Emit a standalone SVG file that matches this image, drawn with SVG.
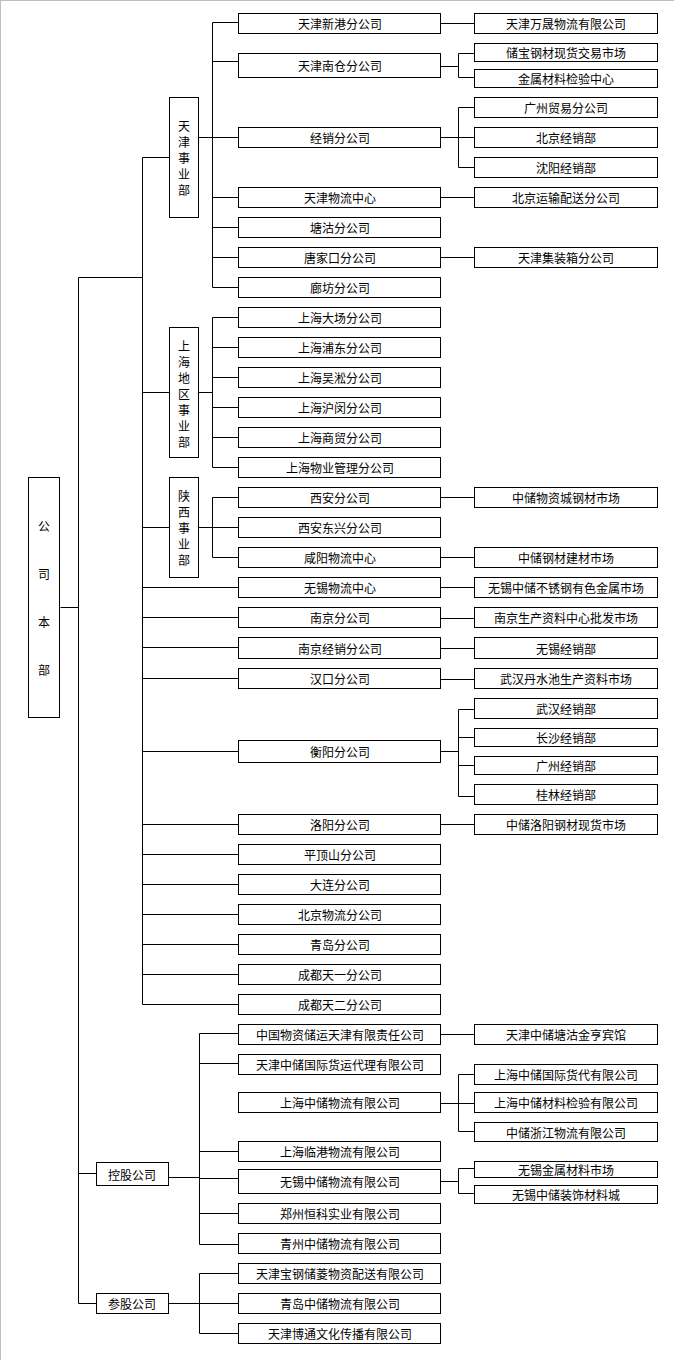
<svg xmlns="http://www.w3.org/2000/svg" width="674" height="1360" viewBox="0 0 674 1360">
<style>
rect{fill:#fff;stroke:#000;stroke-width:1}
text{font-family:"Noto Sans CJK SC",sans-serif;font-size:12px;fill:#000;text-anchor:middle;dominant-baseline:central}
#connectors path{fill:none;stroke:#000;stroke-width:1}
</style>
<rect x="0" y="0" width="674" height="1360" style="fill:#fff;stroke:none"/>
<path d="M0.5 0V1360M0 0.5H674" style="stroke:#c0c0c0;fill:none"/>
<g id="connectors">
<path d="M60.5 607.5H78.5M78.5 277.5V1303.5M78.5 277.5H142.5M78.5 1173.5H96M78.5 1303.5H96"/>
<path d="M142.5 157.5V1004.5M142.5 157.5H169M142.5 392.5H169M142.5 527.5H169"/>
<path d="M142.5 587.5H238M142.5 617.5H238M142.5 647.5H238M142.5 678.5H238M142.5 751.5H238M142.5 824.5H238M142.5 854.5H238M142.5 884.5H238M142.5 914.5H238M142.5 944.5H238M142.5 974.5H238M142.5 1004.5H238"/>
<path d="M199 137.5H212.5M212.5 22.5V287.5M212.5 22.5H238M212.5 61.5H238M212.5 137.5H238M212.5 197.5H238M212.5 227.5H238M212.5 257.5H238M212.5 287.5H238"/>
<path d="M199 392.5H212.5M212.5 317.5V467.5M212.5 317.5H238M212.5 347.5H238M212.5 377.5H238M212.5 407.5H238M212.5 437.5H238M212.5 467.5H238"/>
<path d="M199 527.5H212.5M212.5 497.5V557.5M212.5 497.5H238M212.5 527.5H238M212.5 557.5H238"/>
<path d="M441 23.5H474M441 66.5H458.5M458.5 53.5V77.5M458.5 53.5H474M458.5 77.5H474"/>
<path d="M441 137.5H474M458.5 107.5V167.5M458.5 107.5H474M458.5 167.5H474"/>
<path d="M441 197.5H474M441 257.5H474M441 497.5H474M441 557.5H474M441 587.5H474M441 618.5H474M441 648.5H474M441 679.5H474M441 824.5H474M441 1034.5H474"/>
<path d="M441 751.5H458.5M458.5 709.5V796.5M458.5 709.5H474M458.5 737.5H474M458.5 765.5H474M458.5 796.5H474"/>
<path d="M169 1177.5H199.5M199.5 1033.5V1244.5M199.5 1033.5H238M199.5 1063.5H238M199.5 1151.5H238M199.5 1178.5H238M199.5 1213.5H238M199.5 1244.5H238"/>
<path d="M441 1103.5H458.5M458.5 1074.5V1131.5M458.5 1074.5H474M458.5 1103.5H474M458.5 1131.5H474"/>
<path d="M441 1181.5H458.5M458.5 1168.5V1193.5M458.5 1168.5H474M458.5 1193.5H474"/>
<path d="M169 1303.5H199.5M199.5 1273.5V1333.5M199.5 1273.5H238M199.5 1303.5H238M199.5 1333.5H238"/>
</g>
<g id="hq"><rect x="28.5" y="477.5" width="31" height="240"/><text x="44" y="525">公</text><text x="44" y="573">司</text><text x="44" y="621">本</text><text x="44" y="669">部</text></g>
<g id="tj"><rect x="169.5" y="97.5" width="29" height="120"/><text x="184" y="125">天</text><text x="184" y="141">津</text><text x="184" y="157">事</text><text x="184" y="173">业</text><text x="184" y="189">部</text></g>
<g id="sh"><rect x="169.5" y="327.5" width="29" height="130"/><text x="184" y="345">上</text><text x="184" y="361">海</text><text x="184" y="377">地</text><text x="184" y="393">区</text><text x="184" y="409">事</text><text x="184" y="425">业</text><text x="184" y="441">部</text></g>
<g id="sx"><rect x="169.5" y="477.5" width="29" height="100"/><text x="184" y="495">陕</text><text x="184" y="511">西</text><text x="184" y="527">事</text><text x="184" y="543">业</text><text x="184" y="559">部</text></g>
<g id="kg"><rect x="96.5" y="1162.5" width="72" height="23"/><text x="132" y="1174">控股公司</text></g>
<g id="cg"><rect x="96.5" y="1293.5" width="72" height="20"/><text x="132" y="1303.5">参股公司</text></g>
<g id="m1"><rect x="238.5" y="13.5" width="202" height="20"/><text x="340" y="23.5">天津新港分公司</text></g>
<g id="m2"><rect x="238.5" y="53.5" width="202" height="24"/><text x="340" y="65.5">天津南仓分公司</text></g>
<g id="m3"><rect x="238.5" y="127.5" width="202" height="20"/><text x="340" y="137.5">经销分公司</text></g>
<g id="m4"><rect x="238.5" y="187.5" width="202" height="20"/><text x="340" y="197.5">天津物流中心</text></g>
<g id="m5"><rect x="238.5" y="217.5" width="202" height="20"/><text x="340" y="227.5">塘沽分公司</text></g>
<g id="m6"><rect x="238.5" y="247.5" width="202" height="20"/><text x="340" y="257.5">唐家口分公司</text></g>
<g id="m7"><rect x="238.5" y="277.5" width="202" height="20"/><text x="340" y="287.5">廊坊分公司</text></g>
<g id="m8"><rect x="238.5" y="307.5" width="202" height="20"/><text x="340" y="317.5">上海大场分公司</text></g>
<g id="m9"><rect x="238.5" y="337.5" width="202" height="20"/><text x="340" y="347.5">上海浦东分公司</text></g>
<g id="m10"><rect x="238.5" y="367.5" width="202" height="20"/><text x="340" y="377.5">上海吴淞分公司</text></g>
<g id="m11"><rect x="238.5" y="397.5" width="202" height="20"/><text x="340" y="407.5">上海沪闵分公司</text></g>
<g id="m12"><rect x="238.5" y="427.5" width="202" height="20"/><text x="340" y="437.5">上海商贸分公司</text></g>
<g id="m13"><rect x="238.5" y="457.5" width="202" height="20"/><text x="340" y="467.5">上海物业管理分公司</text></g>
<g id="m14"><rect x="238.5" y="487.5" width="202" height="20"/><text x="340" y="497.5">西安分公司</text></g>
<g id="m15"><rect x="238.5" y="517.5" width="202" height="20"/><text x="340" y="527.5">西安东兴分公司</text></g>
<g id="m16"><rect x="238.5" y="547.5" width="202" height="20"/><text x="340" y="557.5">咸阳物流中心</text></g>
<g id="m17"><rect x="238.5" y="577.5" width="202" height="20"/><text x="340" y="587.5">无锡物流中心</text></g>
<g id="m18"><rect x="238.5" y="607.5" width="202" height="20"/><text x="340" y="617.5">南京分公司</text></g>
<g id="m19"><rect x="238.5" y="637.5" width="202" height="21"/><text x="340" y="648">南京经销分公司</text></g>
<g id="m20"><rect x="238.5" y="668.5" width="202" height="20"/><text x="340" y="678.5">汉口分公司</text></g>
<g id="m21"><rect x="238.5" y="740.5" width="202" height="22"/><text x="340" y="751.5">衡阳分公司</text></g>
<g id="m22"><rect x="238.5" y="814.5" width="202" height="20"/><text x="340" y="824.5">洛阳分公司</text></g>
<g id="m23"><rect x="238.5" y="844.5" width="202" height="20"/><text x="340" y="854.5">平顶山分公司</text></g>
<g id="m24"><rect x="238.5" y="874.5" width="202" height="20"/><text x="340" y="884.5">大连分公司</text></g>
<g id="m25"><rect x="238.5" y="904.5" width="202" height="20"/><text x="340" y="914.5">北京物流分公司</text></g>
<g id="m26"><rect x="238.5" y="934.5" width="202" height="20"/><text x="340" y="944.5">青岛分公司</text></g>
<g id="m27"><rect x="238.5" y="964.5" width="202" height="20"/><text x="340" y="974.5">成都天一分公司</text></g>
<g id="m28"><rect x="238.5" y="994.5" width="202" height="20"/><text x="340" y="1004.5">成都天二分公司</text></g>
<g id="k1"><rect x="238.5" y="1024.5" width="202" height="20"/><text x="340" y="1034.5">中国物资储运天津有限责任公司</text></g>
<g id="k2"><rect x="238.5" y="1054.5" width="202" height="20"/><text x="340" y="1064.5">天津中储国际货运代理有限公司</text></g>
<g id="k3"><rect x="238.5" y="1092.5" width="202" height="20"/><text x="340" y="1102.5">上海中储物流有限公司</text></g>
<g id="k4"><rect x="238.5" y="1141.5" width="202" height="20"/><text x="340" y="1151.5">上海临港物流有限公司</text></g>
<g id="k5"><rect x="238.5" y="1169.5" width="202" height="24"/><text x="340" y="1181.5">无锡中储物流有限公司</text></g>
<g id="k6"><rect x="238.5" y="1203.5" width="202" height="20"/><text x="340" y="1213.5">郑州恒科实业有限公司</text></g>
<g id="k7"><rect x="238.5" y="1233.5" width="202" height="20"/><text x="340" y="1243.5">青州中储物流有限公司</text></g>
<g id="c1"><rect x="238.5" y="1263.5" width="202" height="20"/><text x="340" y="1273.5">天津宝钢储菱物资配送有限公司</text></g>
<g id="c2"><rect x="238.5" y="1293.5" width="202" height="20"/><text x="340" y="1303.5">青岛中储物流有限公司</text></g>
<g id="c3"><rect x="238.5" y="1323.5" width="202" height="20"/><text x="340" y="1333.5">天津博通文化传播有限公司</text></g>
<g id="r1"><rect x="474.5" y="13.5" width="183" height="20"/><text x="566" y="23.5">天津万晟物流有限公司</text></g>
<g id="r2"><rect x="474.5" y="43.5" width="183" height="18"/><text x="566" y="52.5">储宝钢材现货交易市场</text></g>
<g id="r3"><rect x="474.5" y="69.5" width="183" height="18"/><text x="566" y="78.5">金属材料检验中心</text></g>
<g id="r4"><rect x="474.5" y="97.5" width="183" height="20"/><text x="566" y="107.5">广州贸易分公司</text></g>
<g id="r5"><rect x="474.5" y="127.5" width="183" height="20"/><text x="566" y="137.5">北京经销部</text></g>
<g id="r6"><rect x="474.5" y="157.5" width="183" height="20"/><text x="566" y="167.5">沈阳经销部</text></g>
<g id="r7"><rect x="474.5" y="187.5" width="183" height="20"/><text x="566" y="197.5">北京运输配送分公司</text></g>
<g id="r8"><rect x="474.5" y="247.5" width="183" height="20"/><text x="566" y="257.5">天津集装箱分公司</text></g>
<g id="r9"><rect x="474.5" y="487.5" width="183" height="20"/><text x="566" y="497.5">中储物资城钢材市场</text></g>
<g id="r10"><rect x="474.5" y="547.5" width="183" height="20"/><text x="566" y="557.5">中储钢材建材市场</text></g>
<g id="r11"><rect x="474.5" y="577.5" width="183" height="20"/><text x="566" y="587.5">无锡中储不锈钢有色金属市场</text></g>
<g id="r12"><rect x="474.5" y="607.5" width="183" height="20"/><text x="566" y="617.5">南京生产资料中心批发市场</text></g>
<g id="r13"><rect x="474.5" y="637.5" width="183" height="21"/><text x="566" y="648">无锡经销部</text></g>
<g id="r14"><rect x="474.5" y="668.5" width="183" height="20"/><text x="566" y="678.5">武汉丹水池生产资料市场</text></g>
<g id="r15"><rect x="474.5" y="698.5" width="183" height="20"/><text x="566" y="708.5">武汉经销部</text></g>
<g id="r16"><rect x="474.5" y="728.5" width="183" height="18"/><text x="566" y="737.5">长沙经销部</text></g>
<g id="r17"><rect x="474.5" y="756.5" width="183" height="18"/><text x="566" y="765.5">广州经销部</text></g>
<g id="r18"><rect x="474.5" y="784.5" width="183" height="20"/><text x="566" y="794.5">桂林经销部</text></g>
<g id="r19"><rect x="474.5" y="814.5" width="183" height="20"/><text x="566" y="824.5">中储洛阳钢材现货市场</text></g>
<g id="r20"><rect x="474.5" y="1024.5" width="183" height="20"/><text x="566" y="1034.5">天津中储塘沽金亨宾馆</text></g>
<g id="r21"><rect x="474.5" y="1064.5" width="183" height="20"/><text x="566" y="1074.5">上海中储国际货代有限公司</text></g>
<g id="r22"><rect x="474.5" y="1092.5" width="183" height="20"/><text x="566" y="1102.5">上海中储材料检验有限公司</text></g>
<g id="r23"><rect x="474.5" y="1122.5" width="183" height="19"/><text x="566" y="1132">中储浙江物流有限公司</text></g>
<g id="r24"><rect x="474.5" y="1161.5" width="183" height="16"/><text x="566" y="1169.5">无锡金属材料市场</text></g>
<g id="r25"><rect x="474.5" y="1185.5" width="183" height="18"/><text x="566" y="1194.5">无锡中储装饰材料城</text></g>
</svg>
